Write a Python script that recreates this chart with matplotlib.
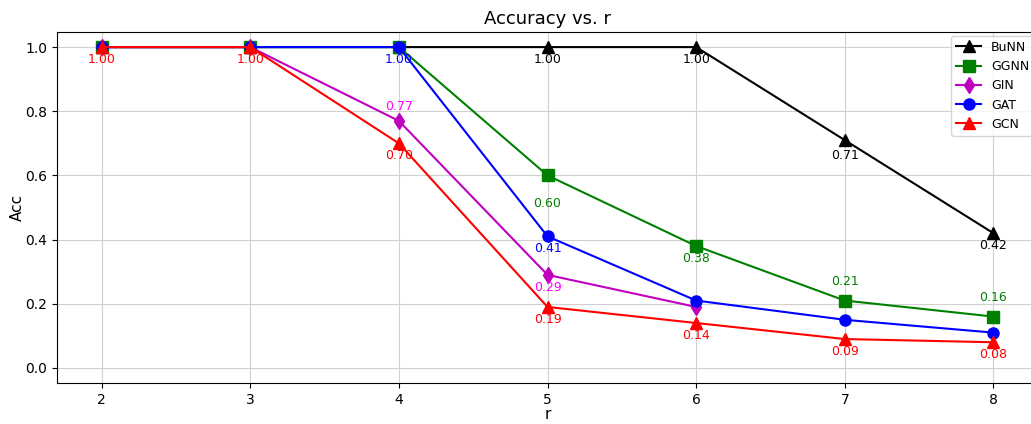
import matplotlib
matplotlib.use("Agg")
import matplotlib.pyplot as plt

r = [2, 3, 4, 5, 6, 7, 8]

bunn = [1.00, 1.00, 1.00, 1.00, 1.00, 0.71, 0.42]
ggnn = [1.00, 1.00, 1.00, 0.60, 0.38, 0.21, 0.16]
gin = [1.00, 1.00, 0.77, 0.29, 0.19]
gat = [1.00, 1.00, 1.00, 0.41, 0.21, 0.15, 0.11]
gcn = [1.00, 1.00, 0.70, 0.19, 0.14, 0.09, 0.08]

# (name, values, line colour, text colour, marker)
series = [
    ("BuNN", bunn, "k", "black", "^"),
    ("GGNN", ggnn, "g", "green", "s"),
    ("GIN", gin, "m", "magenta", "d"),
    ("GAT", gat, "b", "blue", "o"),
    ("GCN", gcn, "r", "red", "^"),
]

# label offset in points for each point (None = no label)
offsets = {
    "BuNN": [None, None, None, -9, -9, -11, -9],
    "GGNN": [None, None, None, -20, -9, 14, 14],
    "GIN": [None, None, 10, -9, None],
    "GAT": [None, None, -9, -9, None, None, None],
    "GCN": [-9, -9, -9, -9, -9, -9, -9],
}

fig = plt.figure(figsize=(10.31, 4.24), dpi=100)
ax = fig.add_axes([0.0553, 0.0967, 0.9515, 0.8278])

for name, vals, c, tc, m in series:
    xs = r[:len(vals)]
    ax.plot(xs, vals, color=c, marker=m, markersize=8, linewidth=1.5, label=name)
    for x, v, off in zip(xs, vals, offsets[name]):
        if off is None:
            continue
        ax.annotate(f"{v:.2f}", (x, v), textcoords="offset points", xytext=(0, off),
                    ha="center", va="center", color=tc, fontsize=9)

ax.set_xlim(1.7, 8.3)
ax.set_ylim(-0.047, 1.047)
ax.set_xticks(r)
ax.grid(True, color="#d0d0d0", linewidth=0.8)
ax.set_title("Accuracy vs. r", fontsize=13)
ax.set_xlabel("r", fontsize=11, labelpad=0.5)
ax.set_ylabel("Acc", fontsize=11, labelpad=0.5)
ax.legend(loc="upper right", fontsize=9, borderaxespad=0.3)

fig.savefig("out.png", dpi=100)
